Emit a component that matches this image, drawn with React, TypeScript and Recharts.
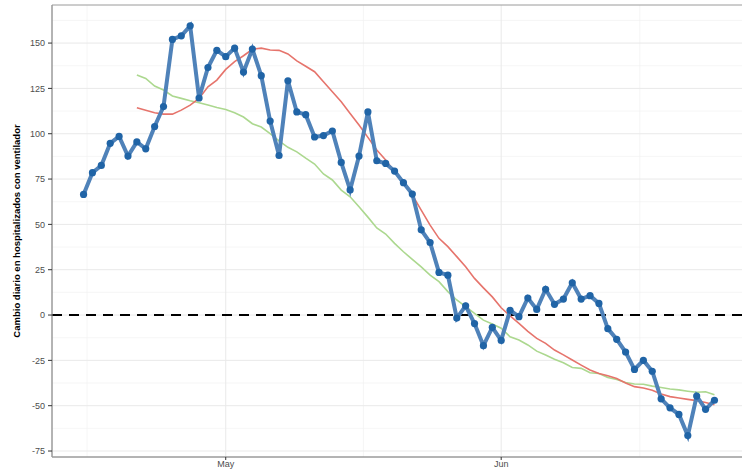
import React from "react";
import {
  LineChart,
  Line,
  XAxis,
  YAxis,
  CartesianGrid,
  ReferenceLine,
  ReferenceArea,
} from "recharts";

// cambio diario (puntos azules), desde el 15 de abril
const diario = [
  66.5, 78.5, 82.5, 94.7, 98.5, 87.7, 95.5, 91.7, 104, 115,
  152, 154, 159.5, 119.7, 136.5, 146, 142.5, 147.2, 134, 146.7,
  132, 107, 88, 129.2, 112, 110.5, 98.2, 99, 101.5, 84.2,
  69, 87.7, 112, 85.1, 83.6, 79.4, 73, 66.7, 47, 40,
  23.5, 22, -1.7, 5.1, -4.7, -16.9, -6.8, -14, 2.6, -0.9,
  9.4, 3.1, 14.2, 5.9, 8.8, 17.8, 8.8, 10.7, 6.4, -7.5,
  -13.4, -20.4, -30, -25, -31, -46.2, -51.2, -54.8, -66.5, -44.7,
  -52, -47,
];

// promedios (empiezan en el día 6)
const promedioRojo = [
  114.3, 113, 111.6, 110.8, 110.8, 113, 115.8, 119.5, 125.9, 129.6,
  135.5, 139.8, 143, 146.6, 147.2, 146.2, 146, 144, 140.2, 137.2,
  134.2, 128.7, 123.2, 117.6, 111.2, 104.8, 98, 91, 85.5, 79,
  73.5, 66.2, 57.9, 49.6, 42.3, 37.7, 32.2, 26.6, 20.2, 15,
  10, 4, -0.5, -4.6, -9, -12.9, -15.6, -19.3, -22, -24.8,
  -27.6, -30.3, -32.2, -33.5, -35, -37.5, -39.5, -40.2, -41.5, -43.5,
  -45, -45.8, -46.5, -47.2, -48.2, -49.5,
];

const promedioVerde = [
  132.4, 130.5, 126.3, 124.1, 120.8, 119.5, 118.2, 117.1, 115.8, 114.5,
  113.4, 111.6, 109.2, 105.5, 103.7, 100, 96, 92.5, 90, 86.5,
  83.3, 77.8, 74.5, 68.9, 65.2, 59.7, 54, 48, 44.7, 39.5,
  34.9, 30.7, 26.6, 22, 18.4, 12.9, 8.3, 4.6, 0.9, -2.8,
  -5, -7.3, -12, -13.8, -16.5, -19.9, -22, -24.4, -26.3, -28.9,
  -29.4, -31.8, -32.2, -34.4, -35.5, -37.2, -38, -38.2, -39.2, -40,
  -40.8, -41.3, -42, -42.6, -42.3, -44,
];

const inicioPromedio = 6;

const xTicks = [16, 47];
const xTickLabels = ["May", "Jun"];
const yTicks = [-75, -50, -25, 0, 25, 50, 75, 100, 125, 150];
const yMinor = [-62.5, -37.5, -12.5, 12.5, 37.5, 62.5, 87.5, 112.5, 137.5, 162.5];
const xMinor = [0.4, 31.5, 62.6];

const data = diario.map((v, i) => ({
  dia: i,
  diario: v,
  rojo: i >= inicioPromedio ? promedioRojo[i - inicioPromedio] : null,
  verde: i >= inicioPromedio ? promedioVerde[i - inicioPromedio] : null,
}));

const X_DOMAIN: [number, number] = [-3.55, 74.55];
const Y_DOMAIN: [number, number] = [-78.3, 171];

const YLabel = () => (
  <text
    x={20}
    y={231}
    transform="rotate(-90 20 231)"
    textAnchor="middle"
    fontSize={9.5}
    fontWeight="bold"
    fill="#000"
    fontFamily="Liberation Sans, Arial, sans-serif"
  >
    Cambio diario en hospitalizados con ventilador
  </text>
);

export default function App() {
  return (
    <div
      style={{
        position: "absolute",
        left: 0,
        top: 0,
        width: 742,
        height: 471,
        overflow: "hidden",
        background: "#fff",
        fontFamily: "Liberation Sans, Arial, sans-serif",
      }}
    >
      <LineChart
        width={760}
        height={471}
        data={data}
        margin={{ top: 5, right: 14, left: 0, bottom: 0 }}
      >
        <CartesianGrid
          stroke="#f2f2f2"
          strokeWidth={0.7}
          horizontalValues={yMinor}
          verticalValues={xMinor}
        />
        <CartesianGrid
          stroke="#e9e9e9"
          strokeWidth={1}
          horizontalValues={yTicks}
          verticalValues={xTicks}
        />
        <XAxis
          type="number"
          dataKey="dia"
          domain={X_DOMAIN}
          allowDataOverflow
          ticks={xTicks}
          tickFormatter={(v: number) => xTickLabels[xTicks.indexOf(v)]}
          height={14}
          tick={{ fill: "#4d4d4d", fontSize: 9 }}
          tickLine={{ stroke: "#333" }}
          tickSize={3}
          tickMargin={1}
          axisLine={{ stroke: "#9a9a9a" }}
        />
        <YAxis
          type="number"
          domain={Y_DOMAIN}
          allowDataOverflow
          ticks={yTicks}
          width={52}
          tick={{ fill: "#4d4d4d", fontSize: 9 }}
          tickLine={{ stroke: "#333" }}
          tickSize={4}
          tickMargin={3}
          axisLine={{ stroke: "#9a9a9a" }}
          label={{ content: () => <YLabel /> }}
        />
        <ReferenceArea
          x1={X_DOMAIN[0]}
          x2={X_DOMAIN[1]}
          y1={Y_DOMAIN[0]}
          y2={Y_DOMAIN[1]}
          fill="none"
          stroke="#9a9a9a"
          strokeWidth={1}
          ifOverflow="visible"
        />
        <ReferenceLine y={0} stroke="#000" strokeWidth={2} strokeDasharray="10 7" />
        <Line
          dataKey="verde"
          stroke="#acd88f"
          strokeWidth={1.6}
          dot={false}
          isAnimationActive={false}
        />
        <Line
          dataKey="rojo"
          stroke="#e6746c"
          strokeWidth={1.6}
          dot={false}
          isAnimationActive={false}
        />
        <Line
          dataKey="diario"
          stroke="#4f82b9"
          strokeWidth={4}
          dot={{ r: 3.6, fill: "#2064a6", stroke: "none" }}
          activeDot={false}
          isAnimationActive={false}
        />
      </LineChart>
    </div>
  );
}
